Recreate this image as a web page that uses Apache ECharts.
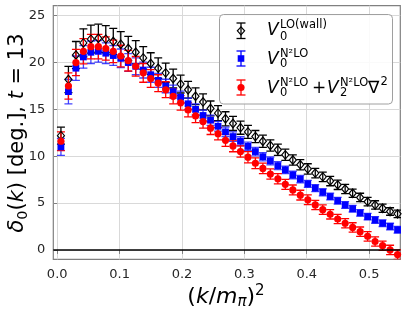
<!DOCTYPE html>
<html><head><meta charset="utf-8">
<script src="https://cdn.jsdelivr.net/npm/echarts@6/dist/echarts.min.js"></script>
<style>html,body{margin:0;padding:0;background:#fff}#c{width:407px;height:314px}</style>
</head><body><div id="c"></div>
<script>
// (k/m_pi)^2 values
const xValues = [0.0060,0.0180,0.0300,0.0420,0.0540,0.0660,0.0779,0.0899,0.1019,0.1139,
  0.1259,0.1379,0.1499,0.1619,0.1739,0.1859,0.1978,0.2098,0.2218,0.2338,
  0.2458,0.2578,0.2698,0.2818,0.2938,0.3058,0.3177,0.3297,0.3417,0.3537,
  0.3657,0.3777,0.3897,0.4017,0.4137,0.4257,0.4376,0.4496,0.4616,0.4736,
  0.4856,0.4976,0.5096,0.5216,0.5336,0.5456];
// V0^LO(wall)
const loWallY = [12.2,18.2,20.8,22.1,22.5,22.6,22.5,22.25,21.95,21.5,
  21.1,20.5,19.9,19.4,18.9,18.3,17.7,17.1,16.4,15.8,
  15.1,14.6,14.0,13.5,13.05,12.6,12.1,11.6,11.15,10.7,
  10.15,9.6,9.1,8.65,8.2,7.8,7.35,6.95,6.5,6.05,
  5.6,5.15,4.8,4.45,4.1,3.85];
const loWallErr = [0.9,1.4,1.45,1.5,1.5,1.5,1.45,1.4,1.35,1.3,
  1.25,1.2,1.15,1.1,1.05,1.0,0.95,0.9,0.9,0.85,
  0.8,0.8,0.75,0.75,0.7,0.7,0.65,0.65,0.6,0.6,
  0.6,0.55,0.55,0.55,0.5,0.5,0.5,0.5,0.5,0.45,
  0.45,0.45,0.45,0.45,0.4,0.4];
// V0^N2LO
const n2loY = [11.0,16.9,19.4,20.6,21.1,21.2,21.0,20.75,20.45,20.0,
  19.6,19.2,18.7,18.1,17.5,16.9,16.3,15.6,15.0,14.35,
  13.85,13.2,12.6,12.1,11.6,11.05,10.5,9.95,9.5,9.0,
  8.55,8.0,7.55,7.05,6.6,6.15,5.7,5.25,4.8,4.4,
  3.95,3.55,3.2,2.85,2.5,2.15];
const n2loErr = [0.9,1.3,1.3,1.2,1.2,1.15,1.1,1.05,1.0,0.95,
  0.9,0.85,0.8,0.75,0.72,0.7,0.65,0.62,0.6,0.58,
  0.55,0.52,0.5,0.5,0.48,0.46,0.45,0.44,0.42,0.42,
  0.4,0.4,0.4,0.38,0.38,0.38,0.36,0.36,0.36,0.35,
  0.35,0.35,0.35,0.35,0.35,0.35];
// V0^N2LO + V2^N2LO nabla^2
const n2loGradY = [11.6,17.5,20.0,21.2,21.7,21.7,21.5,21.2,20.7,20.2,
  19.6,18.9,18.3,17.8,17.1,16.4,15.7,14.95,14.3,13.7,
  13.0,12.4,11.7,11.1,10.5,9.9,9.25,8.7,8.1,7.6,
  7.0,6.4,5.85,5.35,4.8,4.3,3.8,3.3,2.85,2.4,
  1.95,1.45,0.9,0.45,0.0,-0.5];
const n2loGradErr = [1.0,1.4,1.4,1.35,1.3,1.3,1.25,1.2,1.15,1.1,
  1.05,1.0,0.95,0.9,0.85,0.8,0.78,0.75,0.72,0.7,
  0.68,0.66,0.64,0.62,0.6,0.6,0.58,0.56,0.55,0.55,
  0.54,0.53,0.52,0.52,0.5,0.5,0.5,0.5,0.5,0.5,
  0.5,0.5,0.5,0.5,0.5,0.5];
const xTicks = [0, 0.1, 0.2, 0.3, 0.4, 0.5];
const yTicks = [0, 5, 10, 15, 20, 25];

const FONT = '"DejaVu Sans", "Liberation Sans", sans-serif';
function errData(ys, es) { return xValues.map((x, i) => [x, ys[i] - es[i], ys[i] + es[i]]); }
function ptData(ys) { return xValues.map((x, i) => [x, ys[i]]); }
function errRender(color, capW, lw) {
  return function (params, api) {
    const x = api.value(0), lo = api.value(1), hi = api.value(2);
    const p1 = api.coord([x, hi]), p2 = api.coord([x, lo]);
    const h = capW / 2;
    const st = { stroke: color, lineWidth: lw };
    return { type: 'group', children: [
      { type: 'line', shape: { x1: p1[0], y1: p1[1], x2: p2[0], y2: p2[1] }, style: st },
      { type: 'line', shape: { x1: p1[0] - h, y1: p1[1], x2: p1[0] + h, y2: p1[1] }, style: st },
      { type: 'line', shape: { x1: p2[0] - h, y1: p2[1], x2: p2[0] + h, y2: p2[1] }, style: st }
    ]};
  };
}
function errSeries(ys, es, color) {
  return { type: 'custom', data: errData(ys, es), renderItem: errRender(color, 8, 1.3),
    encode: { x: 0, y: [1, 2] }, clip: true, silent: true };
}

// legend graphics
const LX = 241;
function legErr(y1, y2, color) {
  const st = { stroke: color, lineWidth: 1.3 };
  return [
    { type: 'line', shape: { x1: LX, y1: y1, x2: LX, y2: y2 }, style: st, z: 101 },
    { type: 'line', shape: { x1: LX - 4.5, y1: y1, x2: LX + 4.5, y2: y1 }, style: st, z: 101 },
    { type: 'line', shape: { x1: LX - 4.5, y1: y2, x2: LX + 4.5, y2: y2 }, style: st, z: 101 }
  ];
}
function txt(t, x, y, size, italic) {
  return { type: 'text', x: x, y: y, z: 102, style: { text: t, fill: '#000',
    font: (italic ? 'italic ' : '') + size + 'px ' + FONT, align: 'left', verticalAlign: 'middle' } };
}
const MS = 17, SS = 11.5;
const legend = [
  { type: 'rect', shape: { x: 219.5, y: 14.5, width: 173, height: 89.5, r: 4 },
    style: { fill: 'rgba(255,255,255,0.85)', stroke: '#a0a0a0', lineWidth: 1 }, z: 100 },
  ...legErr(23, 38.5, '#000'),
  { type: 'polygon', shape: { points: [[LX, 26.8], [LX + 3.6, 30.8], [LX, 34.8], [LX - 3.6, 30.8]] },
    style: { fill: 'none', stroke: '#000', lineWidth: 1.2 }, z: 102 },
  ...legErr(51, 66, '#0000ff'),
  { type: 'rect', shape: { x: LX - 3.3, y: 55.2, width: 6.6, height: 6.6 }, style: { fill: '#0000ff' }, z: 102 },
  ...legErr(80, 95, '#ff0000'),
  { type: 'circle', shape: { cx: LX, cy: 87.5, r: 3.6 }, style: { fill: '#ff0000' }, z: 102 },
  txt('V', 267, 31, MS, true), txt('LO(wall)', 280, 25, SS), txt('0', 280, 37, SS),
  txt('V', 267, 59.5, MS, true), txt('N²LO', 280, 54.5, SS), txt('0', 280, 64.5, SS),
  txt('V', 267, 88.5, MS, true), txt('N²LO', 280, 83.5, SS), txt('0', 280, 93.5, SS),
  txt('+', 312, 88.5, MS), txt('V', 327, 88.5, MS, true), txt('N²LO', 340, 83.5, SS), txt('2', 340, 93.5, SS),
  txt('∇', 368, 88.5, MS), txt('2', 380.5, 82.5, SS)
];

const axisTitles = [
  { type: 'text', x: 226, y: 297, z: 50, style: {
      text: '{n|(}{i|k}{n|/}{i|m}{sub|π}{n|)}{sup|2}', align: 'center', verticalAlign: 'middle',
      rich: {
        n: { font: '22px ' + FONT, fill: '#000', lineHeight: 26 },
        i: { font: 'italic 22px ' + FONT, fill: '#000', lineHeight: 26 },
        sub: { font: 'italic 15px ' + FONT, fill: '#000', lineHeight: 15, verticalAlign: 'bottom', padding: [0, 0, 0, 0] },
        sup: { font: '15px ' + FONT, fill: '#000', lineHeight: 15, verticalAlign: 'top' }
      } } },
  { type: 'text', x: 18, y: 133, rotation: Math.PI / 2, z: 50, style: {
      text: '{i|δ}{sub|0}{n|(}{i|k}{n|) [deg.], }{i|t}{n| = 13}', align: 'center', verticalAlign: 'middle',
      rich: {
        n: { font: '21px ' + FONT, fill: '#000', lineHeight: 25 },
        i: { font: 'italic 21px ' + FONT, fill: '#000', lineHeight: 25 },
        sub: { font: '14.5px ' + FONT, fill: '#000', lineHeight: 14, verticalAlign: 'bottom' }
      } } }
];

const chart = echarts.init(document.getElementById('c'), null, { renderer: 'canvas' });
const axisCommon = {
  type: 'value',
  axisLine: { show: false },
  axisTick: { show: true, length: 4, lineStyle: { color: '#808080', width: 1 } },
  splitLine: { show: true, lineStyle: { color: '#d9d9d9', width: 1 } },
  axisLabel: { fontSize: 13, fontFamily: FONT, color: '#262626' }
};
chart.setOption({
  animation: false,
  backgroundColor: '#fff',
  grid: { left: 53.3, right: 6.7, top: 5.7, bottom: 54.7, show: true, borderColor: '#808080', borderWidth: 1.2 },
  xAxis: Object.assign({}, axisCommon, {
    min: -0.00625, max: 0.55,
    axisTick: Object.assign({}, axisCommon.axisTick, { customValues: xTicks }),
    axisLabel: Object.assign({}, axisCommon.axisLabel, { customValues: xTicks, margin: 9, formatter: v => v.toFixed(1) })
  }),
  yAxis: Object.assign({}, axisCommon, {
    min: -1, max: 26.07,
    axisTick: Object.assign({}, axisCommon.axisTick, { customValues: yTicks }),
    axisLabel: Object.assign({}, axisCommon.axisLabel, { customValues: yTicks, margin: 8, formatter: v => String(Math.round(v)) })
  }),
  series: [
    errSeries(loWallY, loWallErr, '#000000'),
    { type: 'scatter', data: ptData(loWallY), symbol: 'diamond', symbolSize: [7, 8.5],
      itemStyle: { color: 'rgba(0,0,0,0)', borderColor: '#000', borderWidth: 1.2, opacity: 1 }, silent: true,
      markLine: { silent: true, symbol: 'none', label: { show: false }, animation: false,
        lineStyle: { color: '#000', width: 1.5, type: 'solid' }, data: [{ yAxis: 0 }] } },
    errSeries(n2loY, n2loErr, 'rgba(20,20,255,0.8)'),
    { type: 'scatter', data: ptData(n2loY), symbol: 'rect', symbolSize: 6.8,
      itemStyle: { color: '#0000ff', opacity: 1 }, silent: true },
    errSeries(n2loGradY, n2loGradErr, '#ff0000'),
    { type: 'scatter', data: ptData(n2loGradY), symbol: 'circle', symbolSize: 7.2,
      itemStyle: { color: '#ff0000', opacity: 1 }, silent: true }
  ],
  graphic: axisTitles.concat(legend)
});
</script></body></html>
